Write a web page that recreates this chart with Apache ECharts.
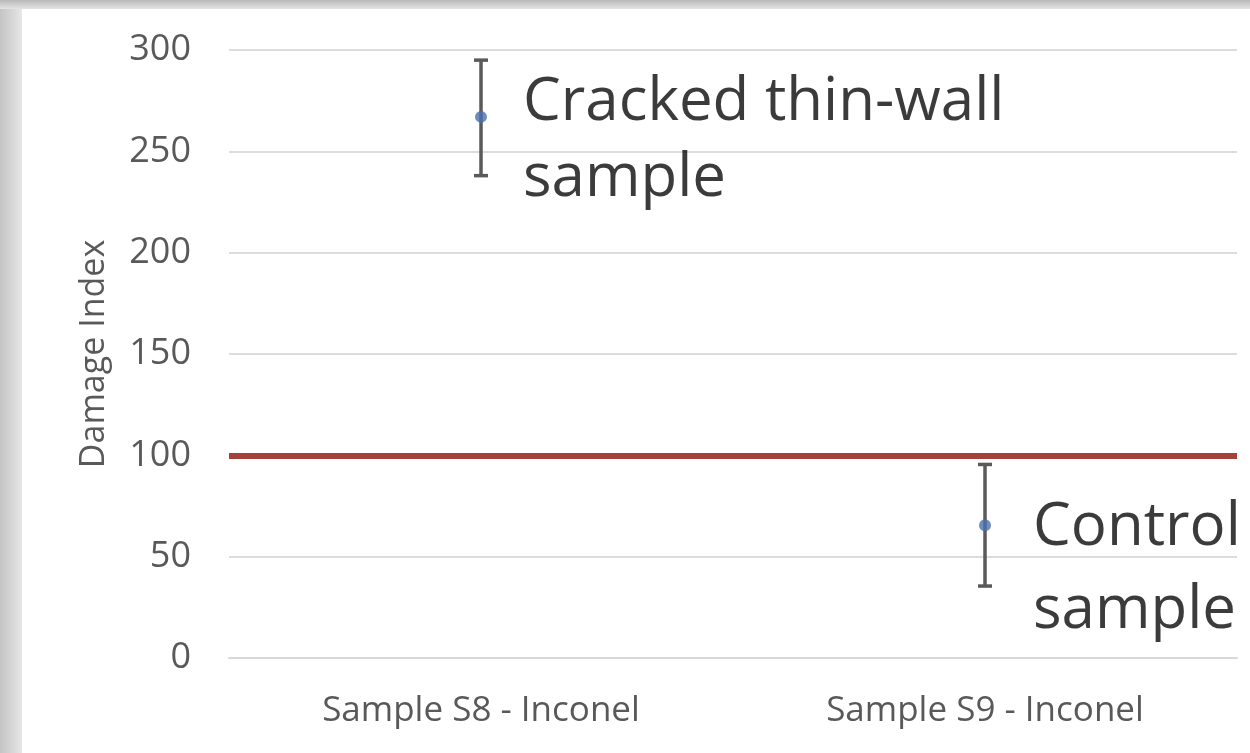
<!DOCTYPE html>
<html>
<head>
<meta charset="utf-8">
<script src="https://cdn.jsdelivr.net/npm/echarts@6/dist/echarts.min.js"></script>
<style>
html,body{margin:0;padding:0;background:#fff;}
#chart{width:1250px;height:753px;}
</style>
</head>
<body>
<div id="chart"></div>
<script>
const categories = ['Sample S8 - Inconel', 'Sample S9 - Inconel'];
const meanValues = [267, 65.5];
const upperValues = [295, 95.5];
const lowerValues = [238, 35.5];
const annotations = ['Cracked thin-wall\nsample', 'Control\nsample'];
const thresholdValue = 100;
const yTicks = [0, 50, 100, 150, 200, 250, 300];

const chart = echarts.init(document.getElementById('chart'));
const font = '"Open Sans", sans-serif';

const errorData = categories.map((c, i) => [i, lowerValues[i], upperValues[i]]);
const pointData = categories.map((c, i) => ({
  value: [i, meanValues[i]],
  label: {
    show: true,
    formatter: annotations[i],
    position: 'right',
    distance: i === 0 ? 36 : 42,
    offset: [0, i === 0 ? 24 : 44],
    fontSize: 60,
    lineHeight: i === 0 ? 76 : 83,
    color: '#0a0a0a',
    fontFamily: font
  }
}));

chart.setOption({
  animation: false,
  backgroundColor: '#ffffff',
  graphic: [
    { type: 'rect', left: 0, top: 0, shape: { width: 22, height: 753 },
      style: { fill: new echarts.graphic.LinearGradient(0, 0, 1, 0, [
        { offset: 0, color: '#c4c4c4' }, { offset: 1, color: '#e6e6e6' }]) }, z: -1 },
    { type: 'rect', left: 0, top: 0, shape: { width: 1250, height: 9 },
      style: { fill: new echarts.graphic.LinearGradient(0, 0, 0, 1, [
        { offset: 0, color: '#b8b8b8' }, { offset: 1, color: '#e4e4e4' }]) }, z: -1 }
  ],
  grid: { left: 229, right: 13, top: 50, bottom: 95, containLabel: false },
  xAxis: {
    type: 'category',
    data: categories,
    boundaryGap: true,
    axisLine: { show: true, lineStyle: { color: '#d9d9d9', width: 2 } },
    axisTick: { show: false },
    axisLabel: { color: '#595959', fontSize: 35, fontFamily: font, margin: 36 },
    splitLine: { show: false }
  },
  yAxis: {
    type: 'value',
    min: yTicks[0],
    max: yTicks[yTicks.length - 1],
    interval: yTicks[1] - yTicks[0],
    name: 'Damage Index',
    nameLocation: 'middle',
    nameGap: 118,
    nameTextStyle: { color: '#595959', fontSize: 34, fontFamily: font },
    axisLine: { show: false },
    axisTick: { show: false },
    axisLabel: { color: '#595959', fontSize: 36, fontFamily: font, margin: 38 },
    splitLine: { show: true, lineStyle: { color: '#dcdcdc', width: 2 } }
  },
  series: [
    {
      type: 'line',
      data: [],
      markLine: {
        silent: true,
        symbol: 'none',
        label: { show: false },
        lineStyle: { color: '#a3413a', width: 6, type: 'solid' },
        data: [{ yAxis: thresholdValue }]
      }
    },
    {
      type: 'custom',
      data: errorData,
      z: 3,
      renderItem: function (params, api) {
        const x = api.value(0);
        const lo = api.coord([x, api.value(1)]);
        const hi = api.coord([x, api.value(2)]);
        const hw = 7;
        const st = { stroke: '#5a5a5a', lineWidth: 3.5 };
        return {
          type: 'group',
          children: [
            { type: 'line', shape: { x1: hi[0], y1: hi[1], x2: lo[0], y2: lo[1] }, style: st },
            { type: 'line', shape: { x1: hi[0] - hw, y1: hi[1], x2: hi[0] + hw, y2: hi[1] }, style: st },
            { type: 'line', shape: { x1: lo[0] - hw, y1: lo[1], x2: lo[0] + hw, y2: lo[1] }, style: st }
          ]
        };
      }
    },
    {
      type: 'scatter',
      data: pointData,
      symbol: 'circle',
      symbolSize: 12,
      z: 4,
      itemStyle: { color: '#4a6fae' }
    }
  ]
});
</script>
</body>
</html>
